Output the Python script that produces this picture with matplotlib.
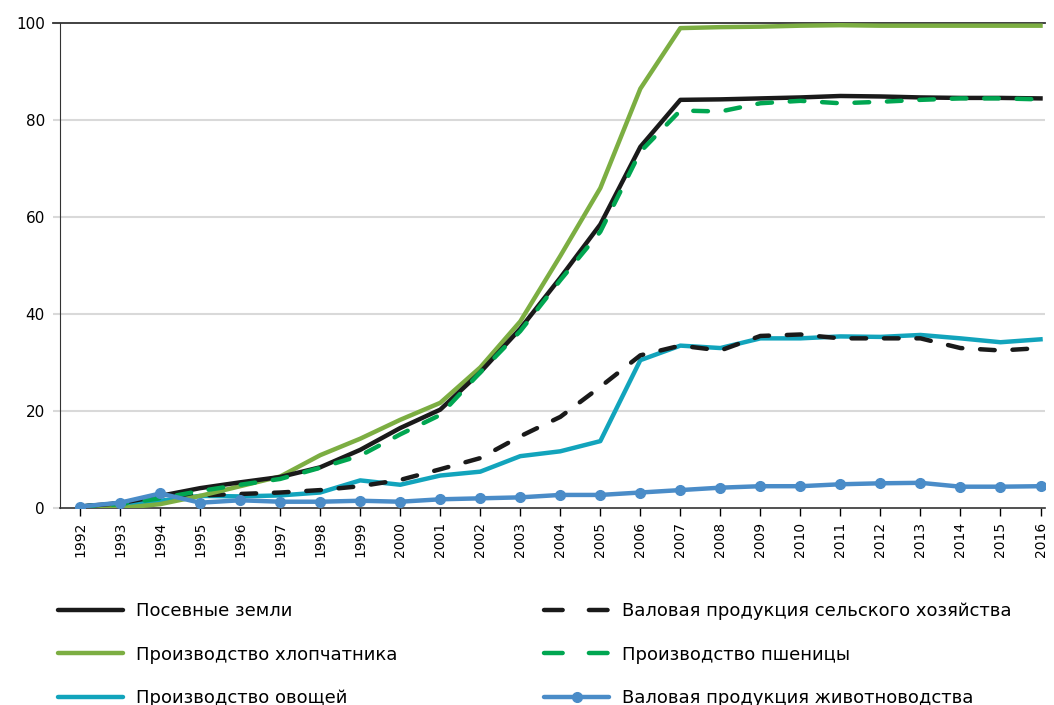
import numpy as np
from matplotlib import pyplot as plt
from matplotlib.lines import Line2D

# Годы
years = list(range(1992, 2017))

# Ряды данных, %
posevnye = [0.3, 1.0, 2.5, 4.1, 5.3, 6.4, 8.4, 12.0, 16.5, 20.3, 28.0, 37.0, 47.5, 58.5, 74.5,
            84.2, 84.3, 84.5, 84.7, 85.0, 84.9, 84.7, 84.6, 84.6, 84.5]
hlopok = [0.0, 0.0, 0.8, 2.5, 4.5, 6.5, 10.9, 14.3, 18.2, 21.7, 29.0, 38.5, 52.0, 66.0, 86.5,
          99.0, 99.2, 99.3, 99.5, 99.6, 99.5, 99.5, 99.5, 99.5, 99.5]
ovoschi = [0.3, 0.8, 1.5, 2.5, 2.4, 2.6, 3.2, 5.7, 4.8, 6.7, 7.5, 10.7, 11.7, 13.8, 30.5,
           33.5, 33.0, 35.0, 35.0, 35.4, 35.3, 35.7, 35.0, 34.2, 34.8]
valovaya_sh = [0.3, 1.0, 2.5, 2.6, 2.9, 3.2, 3.7, 4.5, 5.8, 8.0, 10.3, 14.8, 18.8, 25.0, 31.5,
               33.5, 32.5, 35.5, 35.8, 35.0, 35.0, 35.0, 33.0, 32.5, 33.0]
pshenica = [0.3, 0.8, 2.0, 3.5, 4.8, 6.0, 8.3, 10.8, 15.2, 19.2, 28.0, 36.5, 47.0, 57.0, 73.5,
            82.0, 81.8, 83.5, 84.0, 83.5, 83.8, 84.2, 84.5, 84.5, 84.3]
zhivotnovodstvo = [0.3, 1.1, 3.0, 1.1, 1.6, 1.3, 1.3, 1.5, 1.3, 1.8, 2.0, 2.2, 2.7, 2.7, 3.2,
                   3.7, 4.2, 4.5, 4.5, 4.9, 5.1, 5.2, 4.4, 4.4, 4.5]

plt.rcParams['font.family'] = ['DejaVu Sans']

fig = plt.figure(figsize=(10.54, 7.05), dpi=100)
ax = fig.add_axes([0.057, 0.2794, 0.934, 0.6876])

lw = 3.2
dash = (3.3, 4.0)
c_black = '#1a1a1a'
c_cotton = '#7cae42'
c_wheat = '#00a651'
c_veg = '#12a4bc'
c_live = '#4a8cc8'

ax.plot(years, ovoschi, color=c_veg, lw=lw, zorder=3)
ax.plot(years, valovaya_sh, color=c_black, lw=lw, dashes=dash, dash_capstyle='round', zorder=3)
ax.plot(years, posevnye, color=c_black, lw=lw, zorder=4)
ax.plot(years, hlopok, color=c_cotton, lw=lw, zorder=3)
ax.plot(years, pshenica, color=c_wheat, lw=lw, dashes=dash, dash_capstyle='round', zorder=5)
ax.plot(years, zhivotnovodstvo, color=c_live, lw=lw, marker='o', markersize=7, zorder=6)

ax.set_xlim(1991.5, 2016.1)
ax.set_ylim(0, 100)
ax.set_xticks(years)
ax.set_xticklabels([str(y) for y in years], rotation=90, fontsize=10)
ax.set_yticks([0, 20, 40, 60, 80, 100])
ax.tick_params(axis='y', length=5, width=1.5, color='#d9d9d9', labelsize=11, pad=6)
ax.tick_params(axis='x', length=6, width=1, direction='out', pad=4)

for y in [20, 40, 60, 80]:
    ax.axhline(y, color='#d9d9d9', lw=1.5, zorder=1)
# верхняя линия на 100 с выносом влево
ax.plot([-0.007, 1], [100, 100], transform=ax.get_yaxis_transform(),
        color='#333333', lw=1.3, clip_on=False, zorder=2)

for s in ['top', 'right']:
    ax.spines[s].set_visible(False)
ax.spines['left'].set_color('#333333')
ax.spines['bottom'].set_color('#333333')
ax.spines['bottom'].set_linewidth(1.2)

# Легенда (по колонкам)
ldash = (4.2, 5.9)
handles = [
    Line2D([], [], color=c_black, lw=lw, solid_capstyle='round'),
    Line2D([], [], color=c_cotton, lw=lw, solid_capstyle='round'),
    Line2D([], [], color=c_veg, lw=lw, solid_capstyle='round'),
    Line2D([], [], color=c_black, lw=lw, dashes=ldash, dash_capstyle='round'),
    Line2D([], [], color=c_wheat, lw=lw, dashes=ldash, dash_capstyle='round'),
    Line2D([], [], color=c_live, lw=lw, marker='o', markersize=7, solid_capstyle='round'),
]
labels = ['Посевные земли', 'Производство хлопчатника', 'Производство овощей',
          'Валовая продукция сельского хозяйства', 'Производство пшеницы',
          'Валовая продукция животноводства']
fig.legend(handles, labels, loc='upper left', bbox_to_anchor=(0.040, 0.169), ncol=2,
           frameon=False, fontsize=13, handlelength=3.6, handletextpad=0.72,
           columnspacing=8.1, labelspacing=1.41)

fig.savefig('out.png', dpi=100)
